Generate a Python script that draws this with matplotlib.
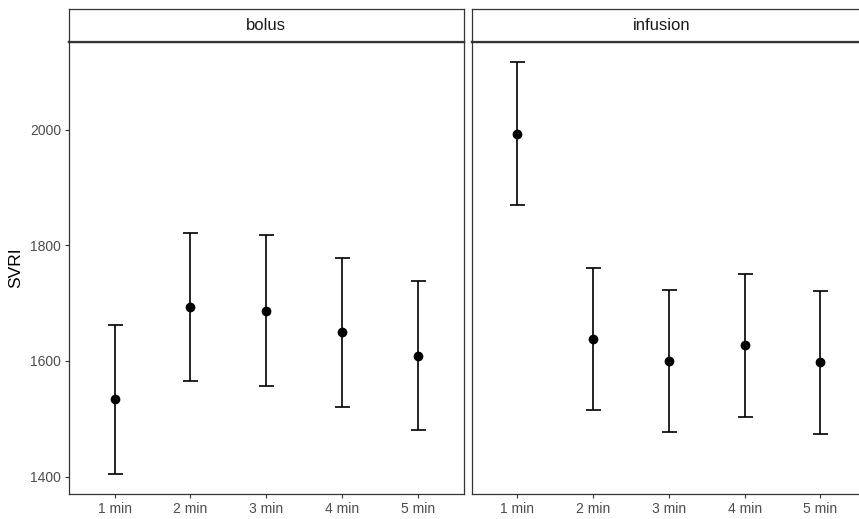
import matplotlib
matplotlib.use("Agg")
import matplotlib.pyplot as plt
import numpy as np

plt.rcParams['font.family'] = ['Liberation Sans', 'DejaVu Sans']

# Mean SVRI with lower/upper interval bounds per time point, by administration mode
time_labels = ["1 min", "2 min", "3 min", "4 min", "5 min"]
panels = ["bolus", "infusion"]

bolus_mean = [1534, 1693, 1687, 1650, 1609]
bolus_lower = [1405, 1565, 1557, 1521, 1481]
bolus_upper = [1663, 1822, 1817, 1778, 1738]

infusion_mean = [1993, 1638, 1600, 1627, 1598]
infusion_lower = [1870, 1515, 1477, 1504, 1474]
infusion_upper = [2116, 1761, 1723, 1750, 1721]

series = {
    "bolus": (bolus_mean, bolus_lower, bolus_upper),
    "infusion": (infusion_mean, infusion_lower, infusion_upper),
}

W, H = 859, 519
fig = plt.figure(figsize=(W / 100, H / 100), dpi=100)
fig.patch.set_facecolor("white")

border = "#333333"
tick_col = "#4D4D4D"

panel_x = [(69, 463.5), (471.5, 866)]
strip_label_x = [266.25, 662]
panel_top, panel_bottom = 42, 494
strip_top = 9

ylim = (1370.1, 2151.3)

for i, name in enumerate(panels):
    x0, x1 = panel_x[i]
    ax = fig.add_axes([x0 / W, (H - panel_bottom) / H, (x1 - x0) / W,
                       (panel_bottom - panel_top) / H])
    mean, lo, hi = series[name]
    mean = np.array(mean, float)
    lo = np.array(lo, float)
    hi = np.array(hi, float)
    xs = np.arange(1, len(time_labels) + 1)
    ax.errorbar(xs, mean, yerr=[mean - lo, hi - mean], fmt="none",
                ecolor="black", elinewidth=1.2, capsize=5.4, capthick=1.2,
                zorder=2)
    ax.plot(xs, mean, "o", color="black", markersize=6.0, zorder=3)

    ax.set_xlim(0.4, 5.6)
    ax.set_ylim(*ylim)
    ax.set_xticks(xs)
    ax.set_xticklabels(time_labels)
    ax.set_yticks([1400, 1600, 1800, 2000])
    for sp in ax.spines.values():
        sp.set_color(border)
        sp.set_linewidth(0.9)
    ax.spines["top"].set_linewidth(1.6)
    ax.tick_params(axis="both", colors=border, labelcolor=tick_col,
                   labelsize=10, length=3, width=0.8, pad=2.5)
    if i == 0:
        ax.set_ylabel("SVRI", fontsize=12.5, color="black", labelpad=5)
    else:
        ax.tick_params(axis="y", left=False, labelleft=False)

    # facet strip
    sax = fig.add_axes([x0 / W, (H - panel_top) / H, (x1 - x0) / W,
                        (panel_top - strip_top) / H])
    sax.set_xticks([])
    sax.set_yticks([])
    sax.set_facecolor("white")
    for sp in sax.spines.values():
        sp.set_color(border)
        sp.set_linewidth(0.9)
    sax.spines["bottom"].set_linewidth(1.6)
    sax.text((strip_label_x[i] - x0) / (x1 - x0), 0.5, name,
             transform=sax.transAxes, ha="center", va="center",
             fontsize=12, color="#1A1A1A")

fig.savefig("out.png", dpi=100, facecolor="white")
